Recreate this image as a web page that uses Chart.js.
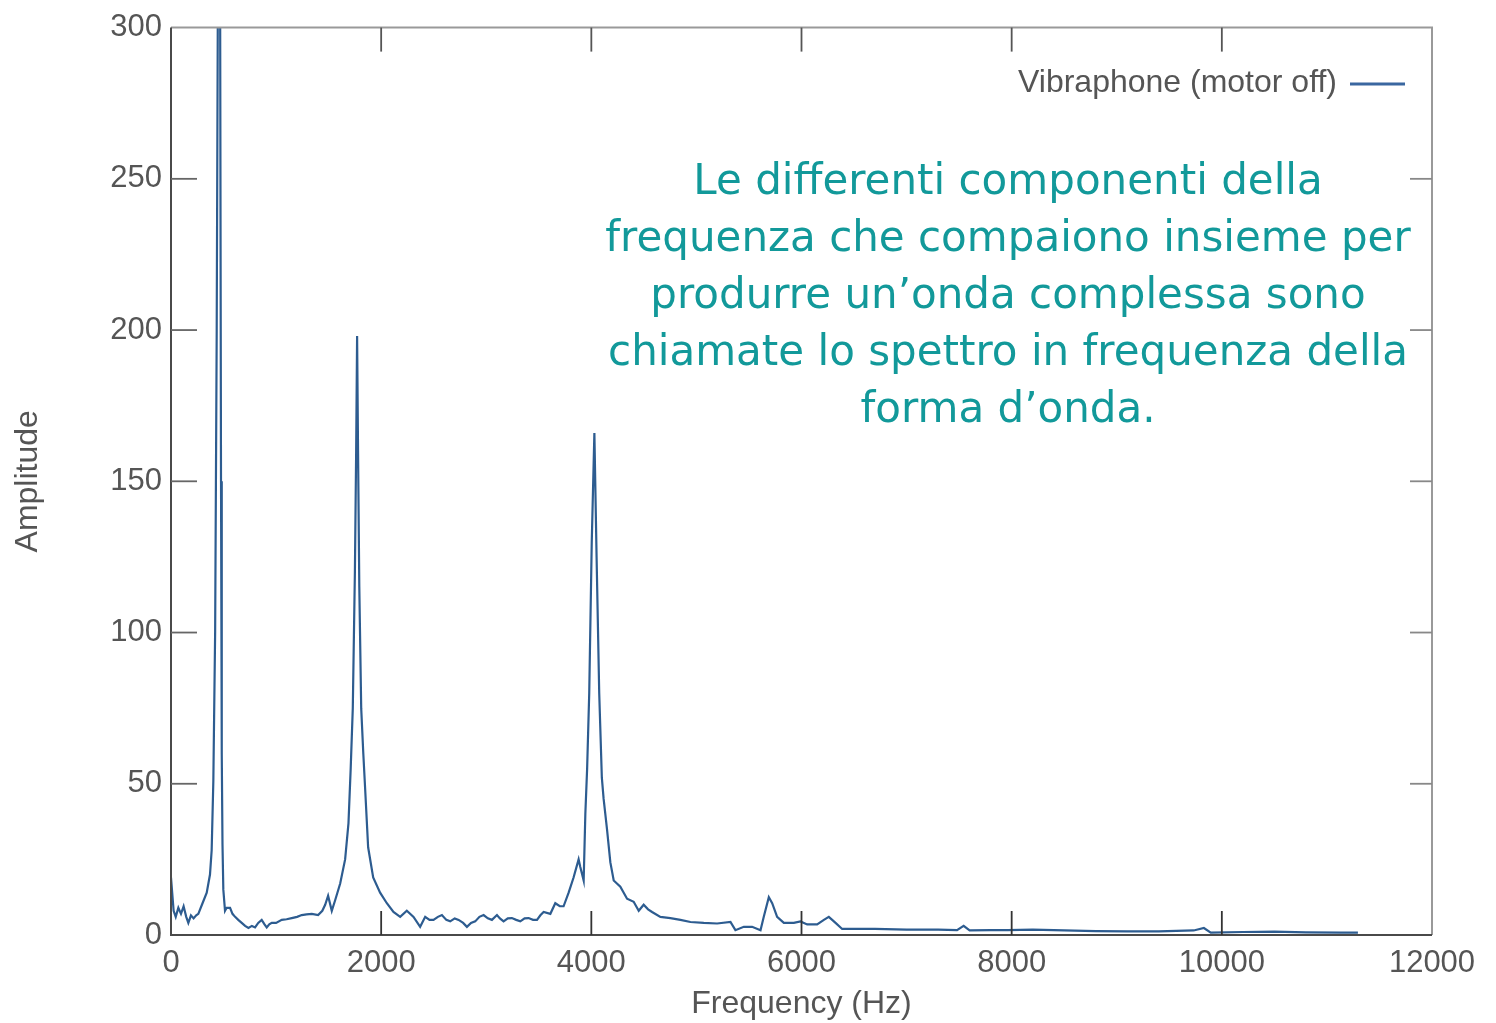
<!DOCTYPE html>
<html>
<head>
<meta charset="utf-8">
<script src="https://cdn.jsdelivr.net/npm/chart.js@4.4.0/dist/chart.umd.min.js"></script>
<style>
  body { margin: 0; background: #fff; }
  canvas { display: block; }
</style>
</head>
<body>
<canvas id="spectrum" width="1496" height="1023"></canvas>
<script>
// Spectrum (Hz, amplitude)
const freqHz = [
  0, 25, 45, 70, 95, 120, 145, 165, 190, 215, 240, 260, 300, 340, 371, 387, 403, 420, 435, 445,
  457, 468, 476, 483, 490, 498, 514, 530, 562, 585, 610, 640, 673, 705, 737, 770, 800, 830, 863, 890,
  911, 935, 959, 1000, 1054, 1100, 1149, 1200, 1244, 1290, 1340, 1400, 1440, 1467, 1495, 1530, 1562, 1610, 1657, 1689,
  1710, 1730, 1750, 1762, 1771, 1780, 1792, 1810, 1830, 1848, 1876, 1924, 1990, 2054, 2117, 2181, 2244, 2308, 2371, 2419,
  2460, 2498, 2540, 2578, 2620, 2657, 2700, 2737, 2780, 2816, 2855, 2895, 2935, 2975, 3015, 3054, 3102, 3130, 3165, 3205,
  3244, 3285, 3324, 3365, 3403, 3445, 3483, 3515, 3546, 3610, 3657, 3700, 3736, 3784, 3831, 3879, 3895, 3927, 3943, 3960,
  3980, 4004, 4029, 4050, 4075, 4100, 4117, 4149, 4181, 4213, 4276, 4340, 4403, 4451, 4498, 4540, 4578, 4657, 4752, 4848,
  4943, 5070, 5197, 5324, 5371, 5451, 5530, 5610, 5641, 5689, 5721, 5768, 5832, 5927, 5990, 6054, 6149, 6213, 6260, 6324,
  6387, 6467, 6700, 7000, 7300, 7480, 7543, 7600, 7800, 7960, 8200, 8500, 8800, 9100, 9400, 9733, 9829, 9895, 10200, 10500,
  10800, 11133, 11295
];
const amplitude = [
  19, 8, 6, 9, 7, 9.5, 6, 4, 6.5, 5.5, 6.5, 7, 10.5, 14, 20, 28, 51, 100, 200, 300,
  420, 300, 150, 60, 30, 15, 8, 9, 9, 7, 6, 5, 4, 3, 2.3, 3, 2.5, 4, 5, 3.5,
  2.5, 3.5, 4, 4, 5, 5.2, 5.6, 6, 6.6, 6.8, 7, 6.6, 8, 10, 13, 8, 11.5, 17, 25, 37,
  55, 75, 120, 160, 198, 160, 115, 75, 60, 48, 29, 19, 14, 10.5, 7.6, 6, 8, 6, 2.7, 6,
  5, 5, 6, 6.6, 5, 4.5, 5.5, 5, 4, 2.7, 4, 4.5, 6, 6.6, 5.5, 5, 6.6, 5.5, 4.5, 5.5,
  5.6, 5, 4.5, 5.5, 5.6, 5, 5, 6.5, 7.6, 7, 10.5, 9.5, 9.5, 14, 19, 25, 22.5, 18, 40, 55,
  80, 130, 166, 125, 80, 52, 45, 35, 24, 18, 16, 12, 11, 8, 10, 8.5, 7.6, 6, 5.6, 5,
  4.3, 4, 3.8, 4.3, 1.6, 2.7, 2.7, 1.6, 6, 12.5, 10.5, 6, 4, 4, 4.5, 3.5, 3.5, 5, 6, 4,
  2, 2, 2, 1.8, 1.8, 1.6, 3, 1.5, 1.6, 1.6, 1.8, 1.5, 1.3, 1.2, 1.2, 1.5, 2.3, 0.8, 1.0, 1.1,
  0.9, 0.8, 0.8
];
const xTicks = [0, 2000, 4000, 6000, 8000, 10000, 12000];
const yTicks = [0, 50, 100, 150, 200, 250, 300];
const seriesLabel = 'Vibraphone (motor off)';
const noteLines = [
  'Le differenti componenti della',
  'frequenza che compaiono insieme per',
  'produrre un\u2019onda complessa sono',
  'chiamate lo spettro in frequenza della',
  'forma d\u2019onda.'
];

const points = freqHz.map((f, i) => ({ x: f, y: amplitude[i] }));
const lineColor = '#2d5c90';

// frame, inward ticks, legend and note text
const framePlugin = {
  id: 'frame',
  afterDraw(chart) {
    const ctx = chart.ctx;
    const { left, right, top, bottom } = chart.chartArea;
    const xs = chart.scales.x;
    const ys = chart.scales.y;
    ctx.save();
    ctx.lineWidth = 2;
    ctx.strokeStyle = '#999';
    ctx.beginPath();
    ctx.moveTo(left, top); ctx.lineTo(right, top); ctx.lineTo(right, bottom);
    ctx.stroke();
    ctx.strokeStyle = '#4a4a4a';
    ctx.beginPath();
    ctx.moveTo(left, top); ctx.lineTo(left, bottom); ctx.lineTo(right, bottom);
    ctx.stroke();

    ctx.lineWidth = 1.8;
    xTicks.slice(1, -1).forEach(v => {
      const px = xs.getPixelForValue(v);
      ctx.strokeStyle = '#333';
      ctx.beginPath(); ctx.moveTo(px, bottom); ctx.lineTo(px, bottom - 24); ctx.stroke();
      ctx.strokeStyle = '#555';
      ctx.beginPath(); ctx.moveTo(px, top); ctx.lineTo(px, top + 24); ctx.stroke();
    });
    yTicks.slice(1, -1).forEach(v => {
      const py = ys.getPixelForValue(v);
      ctx.strokeStyle = '#666';
      ctx.beginPath(); ctx.moveTo(left, py); ctx.lineTo(left + 26, py); ctx.stroke();
      ctx.strokeStyle = '#888';
      ctx.beginPath(); ctx.moveTo(right, py); ctx.lineTo(right - 22, py); ctx.stroke();
    });

    // legend
    ctx.font = '32px "Liberation Sans", Arial, sans-serif';
    ctx.fillStyle = '#555';
    ctx.textAlign = 'right';
    ctx.textBaseline = 'middle';
    ctx.fillText(seriesLabel, 1337, 83);
    ctx.strokeStyle = '#3a67a0';
    ctx.lineWidth = 3;
    ctx.beginPath(); ctx.moveTo(1350, 84); ctx.lineTo(1405, 84); ctx.stroke();

    // note
    ctx.font = '42px "DejaVu Sans", Verdana, sans-serif';
    ctx.fillStyle = '#12999a';
    ctx.textAlign = 'center';
    noteLines.forEach((t, i) => ctx.fillText(t, 1008, 183 + i * 57));
    ctx.restore();
  }
};

new Chart(document.getElementById('spectrum'), {
  type: 'line',
  data: {
    datasets: [{
      label: seriesLabel,
      data: points,
      borderColor: lineColor,
      borderWidth: 2.2,
      pointRadius: 0,
      tension: 0,
      fill: false
    }]
  },
  options: {
    responsive: false,
    animation: false,
    layout: { padding: { left: 0, right: 64, top: 25, bottom: 0 } },
    plugins: {
      legend: { display: false },
      tooltip: { enabled: false }
    },
    scales: {
      x: {
        type: 'linear',
        min: 0,
        max: 12000,
        afterFit: s => { s.height = 88; },
        afterBuildTicks: s => { s.ticks = xTicks.map(v => ({ value: v })); },
        grid: { display: false, drawTicks: false },
        border: { display: false },
        ticks: {
          padding: 10,
          color: '#555',
          font: { family: '"Liberation Sans", Arial, sans-serif', size: 31 },
          maxRotation: 0,
          callback: v => String(v)
        },
        title: {
          display: true,
          text: 'Frequency (Hz)',
          color: '#555',
          font: { family: '"Liberation Sans", Arial, sans-serif', size: 32 },
          padding: { top: 0, bottom: 0 }
        }
      },
      y: {
        min: 0,
        max: 300,
        afterFit: s => { s.width = 171; },
        afterBuildTicks: s => { s.ticks = yTicks.map(v => ({ value: v })); },
        grid: { display: false, drawTicks: false },
        border: { display: false },
        ticks: {
          padding: 9,
          color: '#555',
          font: { family: '"Liberation Sans", Arial, sans-serif', size: 31 },
          callback: v => String(v)
        },
        title: {
          display: true,
          text: 'Amplitude',
          color: '#555',
          font: { family: '"Liberation Sans", Arial, sans-serif', size: 32 },
          padding: { top: 9, bottom: 0 }
        }
      }
    }
  },
  plugins: [framePlugin]
});
</script>
</body>
</html>
